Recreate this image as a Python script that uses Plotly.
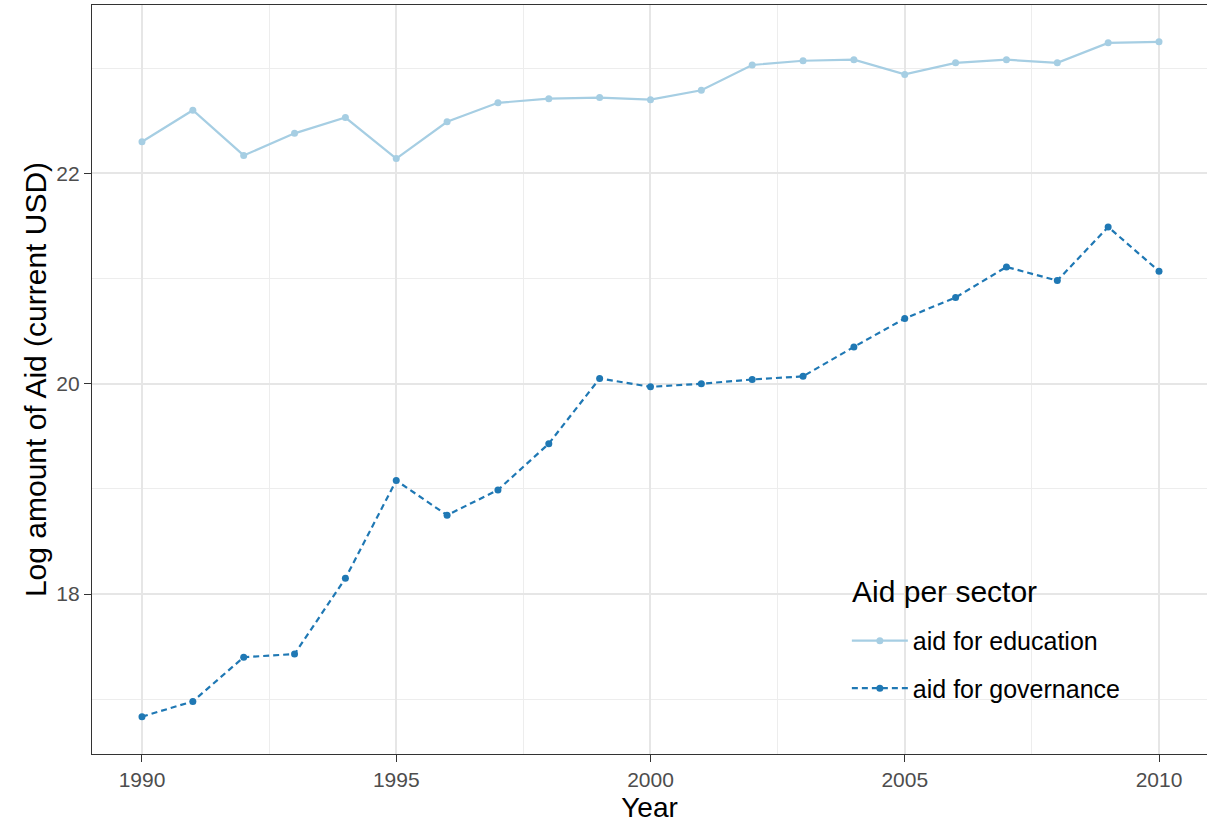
import plotly.graph_objects as go

years = list(range(1990, 2011))
education = [22.30, 22.60, 22.17, 22.38, 22.53, 22.14, 22.49, 22.67, 22.71, 22.72, 22.70,
             22.79, 23.03, 23.07, 23.08, 22.94, 23.05, 23.08, 23.05, 23.24, 23.25]
governance = [16.835, 16.98, 17.40, 17.43, 18.15, 19.08, 18.75, 18.99, 19.43, 20.05, 19.97,
              20.00, 20.04, 20.07, 20.35, 20.62, 20.82, 21.11, 20.98, 21.49, 21.07]
x_ticks = [1990, 1995, 2000, 2005, 2010]
y_ticks = [18, 20, 22]
legend_title = "Aid per sector"

fig = go.Figure()
fig.add_trace(go.Scatter(x=years, y=education, mode="lines+markers", name="aid for education",
                         legendgroup="edu",
                         line=dict(color="#A6CEE3", width=2.2),
                         marker=dict(color="#A6CEE3", size=7)))
fig.add_trace(go.Scatter(x=years, y=governance, mode="lines+markers", name="aid for governance",
                         legendgroup="gov",
                         line=dict(color="#1F78B4", width=2.2, dash="6px,4px"),
                         marker=dict(color="#1F78B4", size=7)))

# white legend panel (covers grid lines like ggplot's legend box)
fig.add_shape(type="rect", xref="paper", yref="paper", x0=0.6664, x1=0.9354, y0=0.0387, y1=0.259,
              fillcolor="white", line=dict(width=0), layer="between")
fig.add_annotation(text=legend_title, xref="paper", yref="paper", x=0.6798, y=0.2163,
                   xanchor="left", yanchor="middle", showarrow=False,
                   font=dict(size=30, color="#000000"))

fig.update_layout(
    width=1207, height=824,
    margin=dict(l=92, r=0, t=5, b=70),
    paper_bgcolor="white", plot_bgcolor="white",
    font=dict(family="Liberation Sans, Arial, sans-serif", color="#000000"),
    xaxis=dict(range=[1989.017, 2010.944], tickvals=x_ticks, ticks="outside", ticklen=7,
               tickcolor="#333333", tickfont=dict(size=21, color="#4D4D4D"),
               showgrid=True, gridcolor="#E6E6E6", gridwidth=1.6,
               minor=dict(dtick=2.5, tick0=1990, showgrid=True, gridcolor="#EDEDED", gridwidth=1.1),
               showline=True, linecolor="#333333", linewidth=1.3, mirror=True, zeroline=False,
               automargin=False,
               title=dict(text="Year", font=dict(size=28, color="#000000"), standoff=7)),
    yaxis=dict(range=[16.48, 23.60], tickvals=y_ticks, ticks="outside", ticklen=7,
               tickcolor="#333333", tickfont=dict(size=21, color="#4D4D4D"),
               showgrid=True, gridcolor="#E6E6E6", gridwidth=1.6,
               minor=dict(dtick=1, tick0=17, showgrid=True, gridcolor="#EDEDED", gridwidth=1.1),
               showline=True, linecolor="#333333", linewidth=1.3, mirror=False, zeroline=False,
               automargin=False,
               title=dict(text="Log amount of Aid (current USD)", font=dict(size=30, color="#000000"),
                          standoff=0)),
    legend=dict(x=0.677, y=0.1817, xanchor="left", yanchor="top",
                bgcolor="rgba(0,0,0,0)", borderwidth=0,
                font=dict(size=25, color="#000000"),
                tracegroupgap=12, itemwidth=56),
    showlegend=True,
)

fig.write_html("out.html", config={"displayModeBar": False},
               post_script="document.body.style.margin='0px';")
